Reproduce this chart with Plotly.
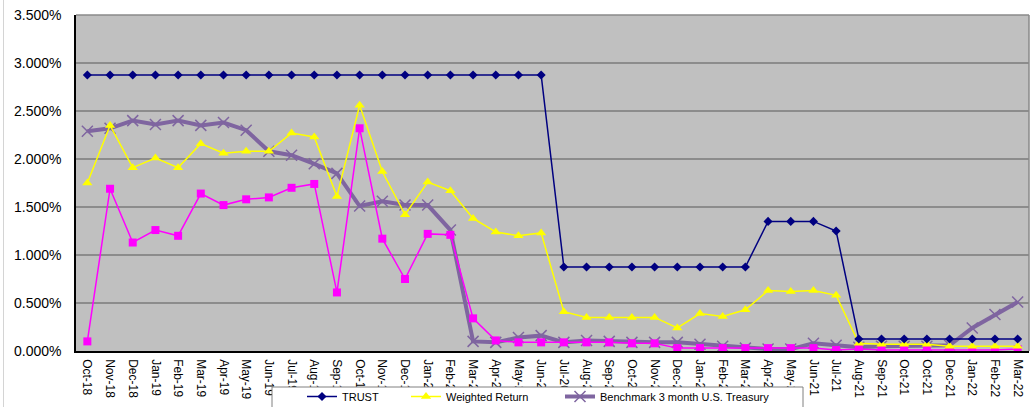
import plotly.graph_objects as go

labels = ["Oct-18", "Nov-18", "Dec-18", "Jan-19", "Feb-19", "Mar-19", "Apr-19", "May-19",
          "Jun-19", "Jul-19", "Aug-19", "Sep-19", "Oct-19", "Nov-19", "Dec-19", "Jan-20",
          "Feb-20", "Mar-20", "Apr-20", "May-20", "Jun-20", "Jul-20", "Aug-20", "Sep-20",
          "Oct-20", "Nov-20", "Dec-20", "Jan-21", "Feb-21", "Mar-21", "Apr-21", "May-21",
          "Jun-21", "Jul-21", "Aug-21", "Sep-21", "Oct-21", "Oct-21", "Dec-21", "Jan-22",
          "Feb-22", "Mar-22"]

trust = [2.875] * 21 + [0.875] * 9 + [1.35, 1.35, 1.35, 1.25] + [0.125] * 8

weighted_return = [1.75, 2.35, 1.91, 2.01, 1.91, 2.16, 2.06, 2.08, 2.08, 2.27, 2.23, 1.61,
                   2.56, 1.87, 1.42, 1.76, 1.67, 1.38, 1.24, 1.20, 1.23, 0.41, 0.35, 0.35,
                   0.35, 0.35, 0.24, 0.39, 0.36, 0.43, 0.63, 0.62, 0.63, 0.58, 0.08, 0.07,
                   0.07, 0.07, 0.05, 0.05, 0.05, 0.05]

fund_return = [0.10, 1.69, 1.13, 1.26, 1.20, 1.64, 1.52, 1.58, 1.60, 1.70, 1.74, 0.61,
               2.32, 1.17, 0.75, 1.22, 1.21, 0.34, 0.11, 0.09, 0.09, 0.09, 0.09, 0.09,
               0.08, 0.08, 0.03, 0.03, 0.03, 0.03, 0.03, 0.03, 0.03, 0.01, 0.02, 0.01,
               0.01, 0.01, 0.01, 0.01, 0.01, 0.02]

benchmark = [2.29, 2.32, 2.40, 2.36, 2.40, 2.35, 2.38, 2.30, 2.08, 2.04, 1.95, 1.85,
             1.51, 1.56, 1.52, 1.52, 1.26, 0.10, 0.09, 0.14, 0.16, 0.09, 0.11, 0.10,
             0.09, 0.09, 0.09, 0.07, 0.05, 0.03, 0.02, 0.02, 0.08, 0.06, 0.04, 0.05,
             0.05, 0.05, 0.06, 0.24, 0.38, 0.51]

y_ticks = [0, 0.5, 1.0, 1.5, 2.0, 2.5, 3.0, 3.5]
y_tick_text = [f"{v:.3f}%" for v in y_ticks]

x = list(range(len(labels)))

FONT = "Liberation Sans, Arial, sans-serif"
W, H = 1030, 407
L, R, T, B = 76, 1, 15, 56
PW = W - L - R
PH = H - T - B


def px_x(p):
    return (p - L) / PW


def px_y(p):
    return (H - B - p) / PH


fig = go.Figure()

fig.add_trace(go.Scatter(
    x=x, y=benchmark, name="Benchmark 3 month U.S. Treasury", mode="lines+markers",
    line=dict(color="#7f65a0", width=4),
    marker=dict(symbol="x-thin", size=11, line=dict(color="#7f65a0", width=1.5)),
    legend="legend3"))

fig.add_trace(go.Scatter(
    x=x, y=fund_return, name="Return", mode="lines+markers",
    line=dict(color="#ff00ff", width=1.5),
    marker=dict(symbol="square", size=8, color="#ff00ff"),
    showlegend=False))

fig.add_trace(go.Scatter(
    x=x, y=weighted_return, name="Weighted Return", mode="lines+markers",
    line=dict(color="#ffff00", width=1.5),
    marker=dict(symbol="triangle-up", size=9, color="#ffff00"),
    legend="legend2"))

fig.add_trace(go.Scatter(
    x=x, y=trust, name="TRUST", mode="lines+markers",
    line=dict(color="#000080", width=1.5),
    marker=dict(symbol="diamond", size=7, color="#000080"),
    legend="legend"))

legend_common = dict(orientation="h", yanchor="top", xanchor="left",
                     bgcolor="rgba(0,0,0,0)", borderwidth=0,
                     font=dict(family=FONT, size=11, color="#000000"))

shapes = [
    # legend box (covers part of the tick labels)
    dict(type="rect", xref="paper", yref="paper",
         x0=px_x(272), x1=px_x(803), y0=px_y(387), y1=px_y(425),
         fillcolor="white", line=dict(color="#808080", width=1), layer="above"),
    # top & right plot border
    dict(type="line", xref="paper", yref="paper", x0=0, x1=1, y0=1, y1=1,
         line=dict(color="#8a8a8a", width=1.5), layer="above"),
    dict(type="line", xref="paper", yref="paper", x0=1, x1=1, y0=0, y1=1,
         line=dict(color="#8a8a8a", width=1.5), layer="above"),
    # chart area left border
    dict(type="line", xref="paper", yref="paper", x0=px_x(3.5), x1=px_x(3.5),
         y0=px_y(0), y1=px_y(407), line=dict(color="#d4d4d4", width=1), layer="above"),
]

fig.update_layout(
    width=W, height=H,
    margin=dict(l=L, r=R, t=T, b=B, autoexpand=False),
    paper_bgcolor="white",
    plot_bgcolor="#c0c0c0",
    font=dict(family=FONT, color="#000000"),
    showlegend=True,
    legend=dict(x=px_x(302), y=px_y(382), **legend_common),
    legend2=dict(x=px_x(406), y=px_y(382), **legend_common),
    legend3=dict(x=px_x(560), y=px_y(382), **legend_common),
    shapes=shapes,
    xaxis=dict(
        range=[-0.5, len(labels) - 0.5],
        tickmode="array", tickvals=x, ticktext=labels,
        tickangle=90, tickfont=dict(family=FONT, size=12, color="#000000"),
        showgrid=False, zeroline=False,
        showline=True, linecolor="#000000", linewidth=1.5,
        ticks="", ticklabelstandoff=4,
    ),
    yaxis=dict(
        range=[0, 3.5],
        tickmode="array", tickvals=y_ticks, ticktext=y_tick_text,
        tickfont=dict(family=FONT, size=14, color="#000000"),
        showgrid=True, gridcolor="#8c8c8c", gridwidth=1.5,
        zeroline=False,
        showline=True, linecolor="#000000", linewidth=1.5,
        ticks="", ticklabelstandoff=10,
    ),
)

fig.write_html("out.html", config={"displayModeBar": False},
               post_script="document.body.style.margin='0px';")
